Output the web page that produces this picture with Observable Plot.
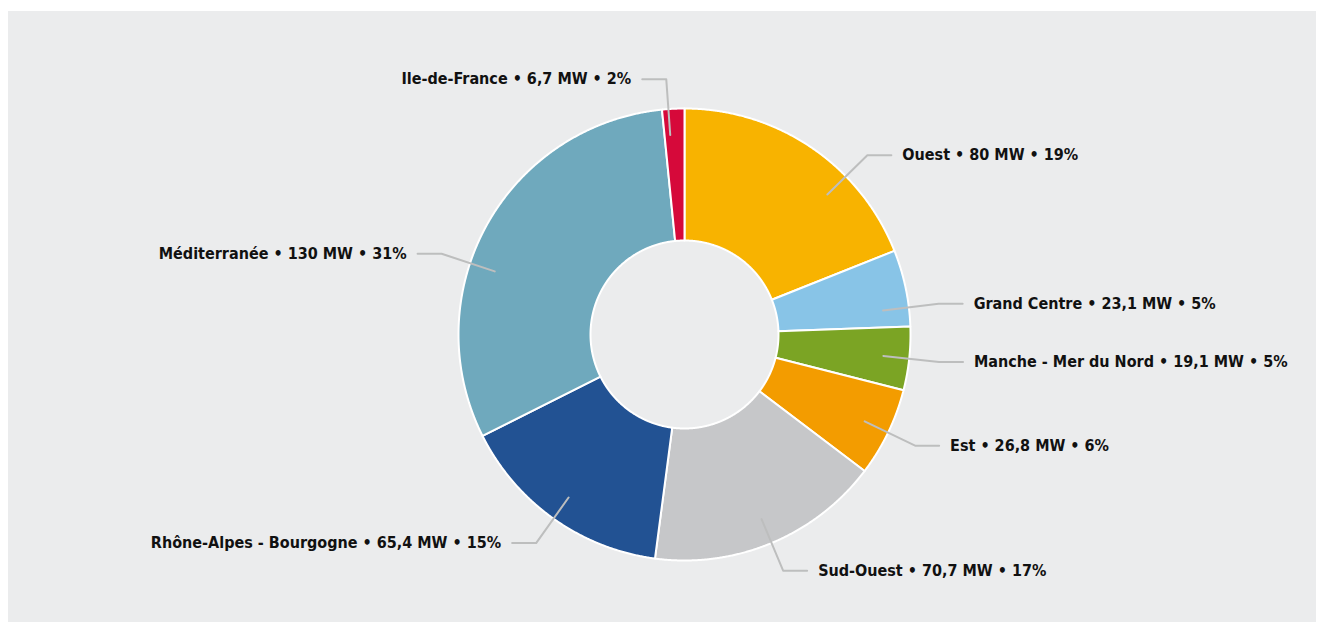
<!DOCTYPE html>
<html><head><meta charset="utf-8">
<script src="https://cdn.jsdelivr.net/npm/d3@7"></script>
<script src="https://cdn.jsdelivr.net/npm/@observablehq/plot@0.6"></script>
<style>
body{margin:0;background:#fff;}
#wrap{position:relative;width:1323px;height:625px;}
#panel{position:absolute;left:8px;top:11px;width:1308px;height:611px;background:#ebeced;}
#chart{position:absolute;left:0;top:0;}
</style></head><body><div id="wrap"><div id="panel"></div><div id="chart"></div></div>
<script>
const regions = ["Ouest","Grand Centre","Manche - Mer du Nord","Est","Sud-Ouest","Rhône-Alpes - Bourgogne","Méditerranée","Ile-de-France"];
const powerMW = [80, 23.1, 19.1, 26.8, 70.7, 65.4, 130, 6.7];
const sharePct = [19, 5, 5, 6, 17, 15, 31, 2];
const colors = ["#f8b300","#88c4e7","#7ba424","#f39c00","#c6c7c9","#225293","#6fa9bd","#d6093a"];

const W = 1323, H = 625;
const cx = 684, cy = 334;           // pixel centre of the donut
const R = 226, r0 = 94;             // outer / inner radius (px units)

const pie = d3.pie().sort(null).value(d => d.value)(regions.map((name, i) => ({name, value: powerMW[i], pct: sharePct[i]})));

const pt = (a, rad) => ({x: rad * Math.sin(a), y: rad * Math.cos(a)});

// slice outlines sampled along their arcs
const slices = [];
for (const p of pie) {
  const n = Math.max(4, Math.ceil((p.endAngle - p.startAngle) / (Math.PI / 720)));
  const pts = [];
  for (let k = 0; k <= n; k++) pts.push(pt(p.startAngle + (p.endAngle - p.startAngle) * k / n, R));
  for (let k = n; k >= 0; k--) pts.push(pt(p.startAngle + (p.endAngle - p.startAngle) * k / n, r0));
  pts.push(pts[0]);
  for (const q of pts) slices.push({region: p.data.name, ...q});
}

// leader lines and labels (leader angle gently pulled toward the horizontal in the upper half)
const leaders = [], labels = [];
for (const p of pie) {
  let m = (p.startAngle + p.endAngle) / 2;
  const side = Math.sin(m) >= 0 ? 1 : -1;
  if (Math.cos(m) > 0) m += side * 0.43 * Math.abs(Math.sin(m)) * Math.cos(m);
  const a = pt(m, 200), b = pt(m, 256);
  const c = {x: b.x + side * 24, y: b.y};
  leaders.push({region: p.data.name, ...a}, {region: p.data.name, ...b}, {region: p.data.name, ...c});
  const fmt = String(p.data.value).replace(".", ",");
  labels.push({x: c.x + side * 11, y: c.y, side, text: `${p.data.name} • ${fmt} MW • ${p.data.pct}%`});
}

const chart = Plot.plot({
  width: W, height: H, margin: 0,
  x: {domain: [-cx, W - cx], axis: null},
  y: {domain: [cy - H, cy], axis: null},
  color: {domain: regions, range: colors},
  style: {background: "transparent", fontFamily: "'DejaVu Sans Condensed','Liberation Sans',sans-serif"},
  marks: [
    Plot.line(slices, {x: "x", y: "y", z: "region", fill: "region", stroke: "#ffffff", strokeWidth: 2, strokeLinejoin: "round", curve: "linear"}),
    Plot.line(leaders, {x: "x", y: "y", z: "region", stroke: "#bdbebe", strokeWidth: 2, curve: "linear"}),
    Plot.text(labels.filter(d => d.side > 0), {x: "x", y: "y", text: "text", textAnchor: "start", fontSize: 16, fontWeight: "bold", fill: "#111111"}),
    Plot.text(labels.filter(d => d.side < 0), {x: "x", y: "y", text: "text", textAnchor: "end", fontSize: 16, fontWeight: "bold", fill: "#111111"})
  ]
});
document.getElementById("chart").appendChild(chart);
</script></body></html>
